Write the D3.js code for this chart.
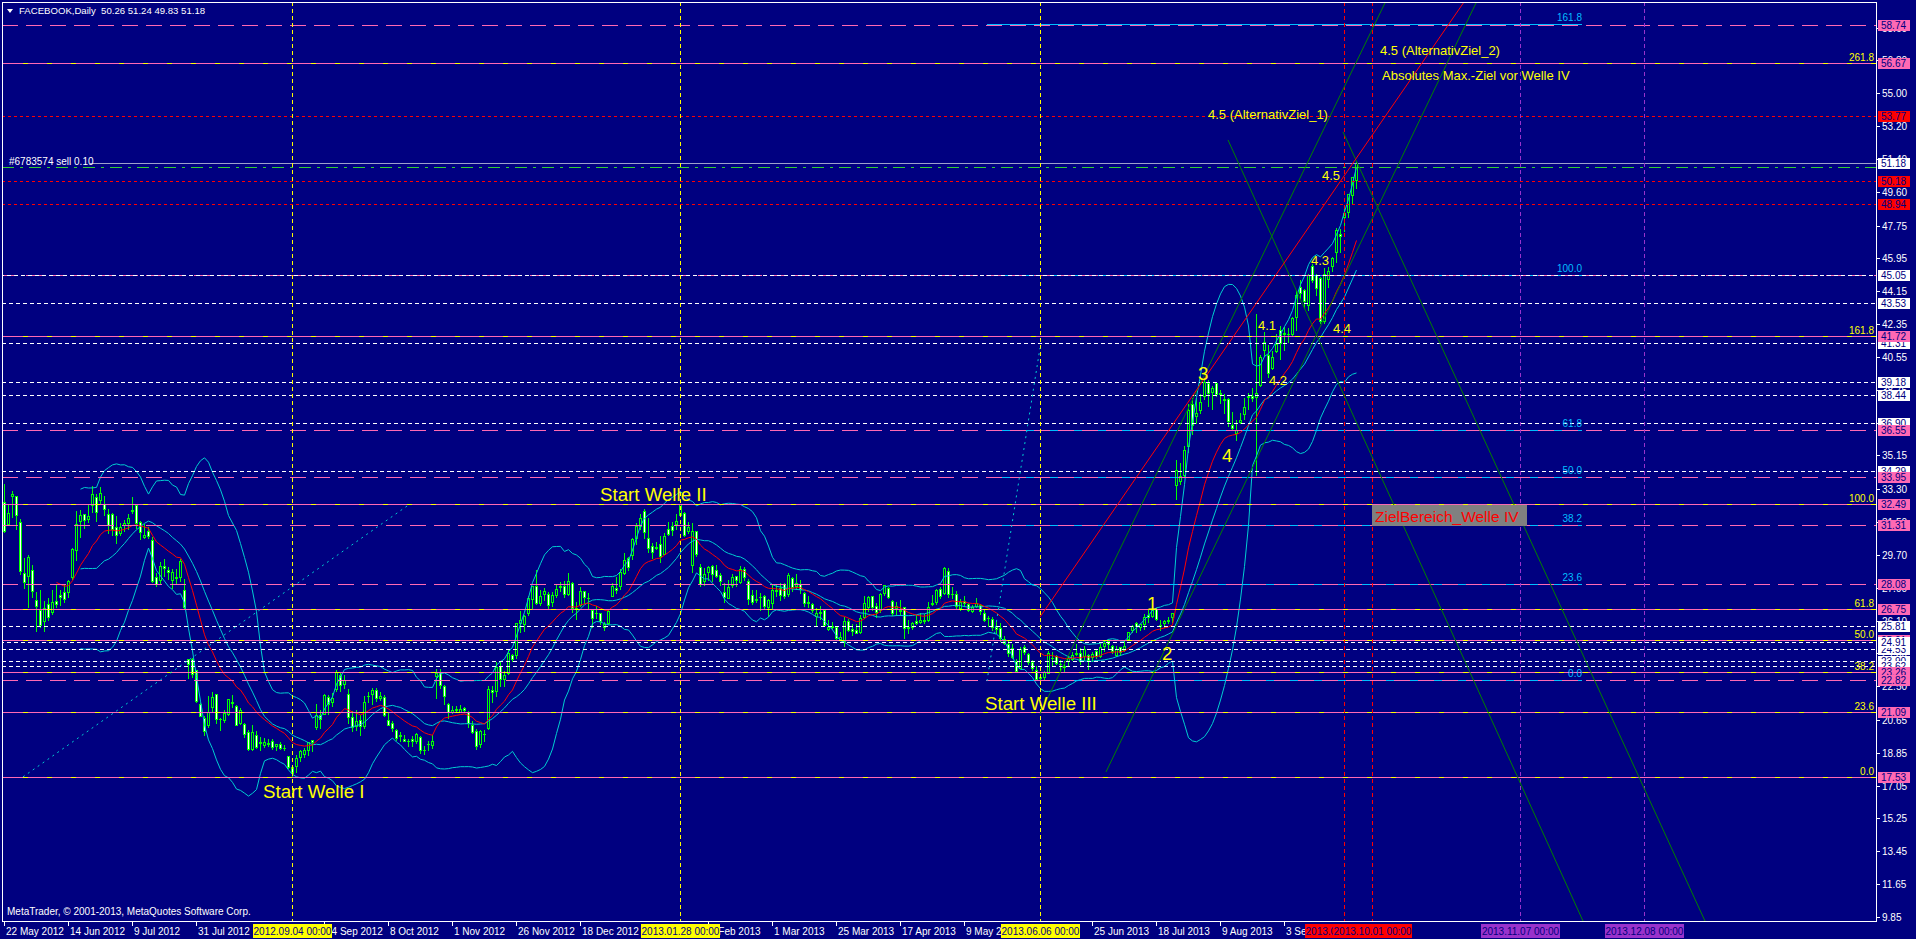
<!DOCTYPE html>
<html><head><meta charset="utf-8">
<script src="https://cdn.jsdelivr.net/npm/d3@7"></script>
<style>html,body{margin:0;padding:0;background:#000080;overflow:hidden}svg{display:block}</style>
</head><body>
<svg id="c" width="1916" height="939"></svg>
<script>
// ---------------- DATA ----------------
// Daily bars, index 0 = 22 May 2012 ... index 338 = 27 Sep 2013
const openP=[32.61,31.37,32.95,32.90,31.48,28.70,28.55,
28.89,27.20,26.70,26.07,27.00,26.55,27.18,27.48,27.66,27.65,28.51,29.96,31.54,31.92,31.67,32.41,32.86,32.69,32.46,31.96,31.92,
31.25,30.91,31.32,31.44,32.10,32.43,31.48,30.70,31.02,30.50,28.51,28.31,29.10,28.88,28.32,28.46,28.50,27.75,23.97,24.00,23.37,
21.50,20.77,20.36,21.38,22.07,20.70,20.64,21.00,21.61,21.41,20.50,20.44,20.00,19.05,19.80,19.36,19.25,19.33,19.50,19.21,19.34,19.11,18.68,
18.08,18.14,18.64,18.77,19.02,19.54,20.25,20.90,21.00,21.91,21.61,22.36,23.12,22.61,22.08,20.81,20.30,20.66,20.30,
21.97,22.05,22.27,21.85,21.91,20.65,20.51,20.08,19.80,19.62,19.49,19.63,19.50,19.69,19.02,19.32,19.25,23.08,23.28,22.50,21.50,
21.08,21.27,21.10,21.29,21.09,20.40,20.03,19.33,19.90,20.20,22.29,22.24,23.60,22.88,23.22,24.22,24.20,25.95,25.93,26.50,27.26,
28.00,27.07,27.53,27.58,27.10,27.50,27.95,28.00,27.58,28.17,26.76,26.96,27.71,27.34,26.66,26.51,26.51,25.76,25.99,
27.44,27.88,28.01,28.69,29.51,29.67,30.60,31.28,32.08,30.64,30.21,30.08,30.31,29.75,31.10,31.27,31.41,31.88,32.00,30.98,29.15,
31.01,29.06,28.26,28.74,29.11,28.89,28.61,27.67,27.36,28.02,28.52,28.23,28.92,28.28,27.51,27.22,27.38,27.42,26.84,
27.05,27.76,27.88,28.10,27.57,28.43,28.01,28.10,27.62,27.10,27.03,26.37,26.53,26.68,25.66,25.80,25.75,25.08,25.00,26.09,
25.63,25.60,25.47,26.32,26.82,27.46,26.90,26.66,27.60,27.90,27.16,26.81,26.65,26.82,25.68,25.77,26.10,26.03,26.10,26.12,27.04,27.13,
27.85,27.61,28.80,27.54,27.55,26.77,27.15,26.98,26.61,26.91,26.97,26.52,26.22,26.16,25.74,25.69,24.88,24.81,24.58,23.86,23.51,24.63,
24.27,23.84,23.41,23.03,22.98,23.25,24.03,24.16,23.70,23.56,23.86,23.97,24.25,24.30,24.18,24.20,24.11,24.43,24.18,24.68,
24.97,24.70,24.22,24.65,24.47,25.07,25.58,25.96,25.74,25.93,26.39,26.37,26.75,25.82,25.99,26.10,26.32,33.54,33.77,34.07,35.65,37.96,
37.30,37.66,38.43,39.11,38.61,39.13,38.59,38.20,38.24,36.83,36.36,36.97,37.43,38.35,38.38,38.37,39.00,40.90,40.68,39.96,40.89,42.02,
41.79,41.79,41.79,42.72,44.36,44.24,43.39,45.53,45.04,44.85,42.50,44.83,45.51,46.32,47.28,48.20,48.47,49.44,50.26];
const highP=[33.59,32.50,33.21,32.95,31.69,29.55,29.67,
29.15,27.65,27.76,27.17,27.35,27.76,28.07,27.77,28.10,28.32,30.10,32.08,32.18,31.93,32.50,33.45,33.02,33.44,32.90,32.19,31.99,
31.82,31.44,31.63,31.93,32.88,32.48,31.57,31.39,31.21,30.70,28.68,29.28,29.45,29.05,28.93,28.92,29.47,28.40,24.00,24.04,23.37,
21.58,20.84,21.95,22.19,22.07,20.74,21.19,21.82,22.00,21.48,21.31,20.48,20.08,20.40,20.04,19.69,19.67,19.60,19.60,19.35,19.45,19.29,18.70,
18.12,18.72,19.00,19.10,19.45,19.54,21.50,21.20,22.06,22.02,22.13,23.37,23.28,23.13,22.32,21.16,21.20,20.93,21.95,
22.20,22.42,22.40,22.19,22.00,21.10,20.60,20.15,20.00,19.83,19.63,19.79,19.93,19.75,19.22,19.51,19.80,23.44,23.42,22.54,21.57,
21.44,21.44,21.48,21.38,21.12,20.58,20.18,20.12,20.08,22.50,22.50,23.83,23.90,23.35,24.55,24.28,25.95,26.60,26.42,27.45,28.00,
28.88,27.77,27.88,27.68,27.65,28.07,28.22,28.24,28.68,28.20,27.10,27.91,27.73,27.63,26.70,26.88,26.51,26.03,26.66,
28.18,28.47,28.93,29.79,29.60,30.60,31.45,31.96,32.21,31.71,30.35,30.42,30.74,30.89,31.50,31.49,31.93,32.51,32.07,31.49,31.47,
31.02,29.20,28.96,29.08,29.15,29.17,28.68,28.16,28.32,28.63,28.55,29.08,29.05,28.35,27.76,27.80,27.60,27.50,27.30,
28.12,28.06,28.18,28.13,28.68,28.47,28.64,28.32,27.65,27.43,27.06,26.79,26.90,26.69,26.11,26.01,25.80,25.48,26.28,26.17,
25.89,25.89,26.39,27.45,27.46,27.47,27.05,27.62,28.07,27.92,27.20,27.11,27.20,26.82,26.15,26.01,26.41,26.51,26.46,27.10,27.51,27.85,
27.92,29.02,29.00,27.92,27.72,27.28,27.45,27.05,26.95,27.35,27.02,26.73,26.37,26.27,26.10,25.96,25.26,24.99,24.80,24.00,24.65,24.74,
24.32,23.94,23.59,23.09,23.34,24.41,24.35,24.23,23.95,23.89,24.15,24.35,24.84,24.57,24.73,24.24,24.37,24.55,24.84,24.98,
25.06,24.77,24.71,24.66,25.04,25.49,25.83,26.00,25.93,26.43,26.75,26.78,26.77,26.11,26.13,26.30,26.53,34.88,34.73,35.66,37.96,38.31,
38.29,38.49,39.32,39.29,38.94,39.19,38.74,38.50,38.32,37.55,37.07,37.49,38.28,38.59,38.85,42.90,40.63,41.94,41.20,40.85,41.78,42.26,
42.19,42.16,42.76,44.20,44.79,44.26,45.09,45.62,45.08,44.94,45.44,45.47,46.05,47.60,47.55,48.66,49.46,50.35,51.24];
const lowP=[30.94,31.36,31.77,31.11,28.65,27.86,26.83,
27.39,25.52,25.75,25.52,26.15,26.44,26.84,26.96,27.10,27.38,28.35,29.41,30.70,31.15,31.51,32.06,31.55,32.50,31.90,30.90,30.76,
30.37,30.80,31.02,31.13,31.99,31.16,30.57,30.64,30.62,28.23,28.00,28.10,28.54,28.40,27.90,28.16,28.25,26.78,22.93,23.03,21.61,
20.84,19.82,20.27,21.08,20.50,20.09,20.55,20.90,21.37,20.35,20.41,19.69,19.00,19.00,19.12,19.00,19.18,19.21,19.06,19.02,19.06,19.02,18.03,
17.55,17.80,18.41,18.62,18.73,18.97,20.15,20.21,20.98,21.00,21.44,22.22,22.21,22.40,20.50,20.05,20.12,19.82,20.23,
21.62,21.50,21.69,21.74,20.86,20.35,20.05,19.53,19.51,19.48,19.23,19.24,19.36,18.86,18.80,19.00,19.10,21.85,22.40,21.50,20.78,
21.01,21.07,21.08,21.06,20.28,19.95,19.08,19.15,19.52,20.18,21.65,21.97,22.49,22.50,23.19,23.87,24.05,25.49,25.55,26.40,26.76,
26.98,26.96,27.20,26.71,26.88,27.41,27.71,27.40,27.51,26.55,26.18,26.90,27.07,26.76,25.75,26.26,25.90,25.57,25.92,
27.42,27.59,27.83,28.65,28.86,29.49,30.28,31.10,30.62,29.88,29.53,30.03,29.33,29.74,30.80,30.81,31.13,31.81,30.71,30.88,28.74,
29.63,28.01,28.04,28.30,28.27,28.51,28.04,27.10,27.31,27.94,27.97,28.15,28.33,27.00,27.00,27.11,26.66,26.78,26.34,
26.81,27.44,27.21,27.35,27.47,27.73,27.83,27.60,26.92,26.83,26.56,25.78,26.21,25.78,25.56,25.63,25.08,25.03,24.72,25.52,
25.28,25.40,25.43,26.24,26.60,26.66,26.32,26.59,27.48,27.34,26.40,26.40,26.39,25.15,25.42,25.63,25.89,25.98,25.97,26.05,26.93,27.01,
27.31,27.55,27.40,27.31,26.80,26.65,26.92,26.60,26.57,26.82,26.43,26.06,25.82,25.58,25.40,25.00,24.80,24.18,24.06,23.26,23.50,24.27,
23.71,23.40,22.85,22.67,22.87,23.21,23.65,23.71,23.26,23.26,23.62,23.91,24.20,23.69,23.91,23.44,23.89,24.03,24.10,24.42,
24.62,24.30,24.15,24.20,24.42,25.03,25.47,25.45,25.56,25.66,26.01,26.30,26.12,25.60,25.72,25.97,26.04,32.75,33.56,34.01,35.32,36.33,
36.92,37.50,38.25,37.86,37.70,38.43,38.01,37.50,36.77,36.62,36.02,36.90,37.14,37.69,38.15,34.10,38.93,40.62,39.42,39.88,40.80,40.42,
40.90,41.36,41.77,42.02,43.70,43.23,43.10,44.65,43.93,42.43,42.43,44.40,45.23,45.74,46.29,47.44,48.24,49.00,49.83];
const closeP=[31.00,32.00,33.03,31.91,28.84,28.19,29.60,
27.72,26.90,25.87,26.81,26.31,27.10,27.01,27.40,27.27,28.29,30.01,31.41,31.91,31.60,31.84,33.05,32.06,33.10,32.23,31.36,31.10,
30.77,31.20,31.47,31.73,32.17,31.47,30.97,30.81,30.72,28.25,28.09,29.11,29.00,28.76,28.75,28.45,29.34,26.85,23.71,23.15,21.71,
20.88,20.04,21.09,21.92,20.72,20.72,21.01,21.81,21.60,20.38,21.20,19.87,19.05,20.01,19.16,19.44,19.44,19.41,19.15,19.34,19.10,19.09,18.06,
17.73,18.58,18.96,18.98,19.43,19.43,20.93,20.71,22.00,21.52,21.87,23.29,22.59,22.86,20.79,20.28,20.62,20.32,21.66,
21.99,22.27,21.83,21.95,20.91,20.40,20.23,19.64,19.75,19.52,19.52,19.48,19.88,18.98,19.00,19.32,19.50,23.23,22.56,21.94,21.11,
21.21,21.18,21.25,21.17,20.47,19.99,19.21,20.07,19.86,22.36,22.17,23.56,22.92,23.10,24.32,24.00,25.94,26.15,26.36,27.32,28.00,
27.04,27.46,27.71,26.97,27.49,27.84,27.98,27.58,28.24,26.81,26.75,27.71,27.41,27.36,26.26,26.51,26.05,25.91,26.62,
28.00,27.77,28.76,29.42,29.06,30.59,31.30,31.72,30.95,30.10,29.85,30.14,29.66,30.73,30.82,31.08,31.54,32.47,30.79,31.24,30.98,
29.73,28.11,28.64,29.05,28.65,28.55,28.26,27.37,27.91,28.50,28.32,28.93,28.46,27.28,27.13,27.27,27.39,26.87,27.25,
27.78,27.72,27.52,27.45,28.58,27.96,28.14,27.83,27.08,27.04,26.65,26.49,26.55,25.86,25.74,25.73,25.13,25.21,26.09,25.58,
25.53,25.42,26.25,27.07,27.39,26.85,26.59,27.57,28.02,27.40,26.52,26.92,26.63,25.69,25.73,25.97,25.98,26.11,26.14,26.85,26.98,27.77,
27.43,28.97,27.57,27.57,26.89,27.12,27.04,26.68,26.82,27.07,26.60,26.13,26.25,25.76,25.66,25.16,25.06,24.31,24.10,23.32,24.55,24.35,
23.85,23.52,22.90,22.97,23.29,24.33,24.03,23.77,23.73,23.63,24.02,24.21,24.31,23.90,24.53,23.94,24.25,24.16,24.66,24.88,
24.81,24.41,24.52,24.37,24.71,25.48,25.80,25.81,25.91,26.28,26.32,26.65,26.18,25.88,26.05,26.13,26.51,34.36,34.01,35.43,37.63,36.80,
37.49,38.05,39.19,38.55,38.87,38.54,38.50,38.22,37.02,36.65,36.56,37.08,37.81,38.41,38.32,38.55,40.55,41.34,39.64,40.55,41.28,41.29,
41.87,41.78,42.66,43.95,44.04,43.60,45.04,44.75,44.31,42.51,45.07,45.23,45.98,47.49,47.19,48.45,49.46,50.39,51.18];

// price axis tick labels
const priceTicks=["9.85","11.65","13.45","15.25","17.05","18.85","20.65","22.50","24.30","26.10","27.90","29.70","31.50","33.30","35.15","36.90","38.75","40.55","42.35","44.15","45.95","47.75","49.60","51.40","53.20","55.00","56.80","58.60"];
// date axis labels (bar index / text) - those fully hidden behind object labels are left out
const dateTickIdx=[0,16,32,48,80,96,112,128,144,176,192,208,224,240,272,288,304,320];
const dateTickText=["22 May 2012","14 Jun 2012","9 Jul 2012","31 Jul 2012","14 Sep 2012","8 Oct 2012","1 Nov 2012","26 Nov 2012","18 Dec 2012","6 Feb 2013","1 Mar 2013","25 Mar 2013","17 Apr 2013","9 May 2013","25 Jun 2013","18 Jul 2013","9 Aug 2013","3 Sep 2013"];

// Fibonacci (yellow labelled) levels
const fibYPrices=[17.53,21.09,23.26,25.01,26.75,32.49,41.72,56.67];
const fibYLabels=["0.0","23.6","38.2","50.0","61.8","100.0","161.8","261.8"];
// Fibonacci (cyan labelled) levels
const fibCPrices=[22.82,28.08,31.31,33.95,36.55,45.05,58.79];
const fibCLabels=["0.0","23.6","38.2","50.0","61.8","100.0","161.8"];
// horizontal lines
const pinkLevels=[58.74,45.05,36.55,33.95,31.31,28.08,22.82];
const whiteLevels=[43.53,41.31,39.18,38.44,36.90,34.29,25.81,24.53,23.90,23.62];
const whiteTopLevels=[45.05,24.91];
const redLevels=[53.77,50.18,48.94];
const bidPrice=51.18, sellPrice=50.96;

// vertical lines (bar index) and their labels
const vYellowIdx=[72,169,259], vYellowText=["2012.09.04 00:00","2013.01.28 00:00","2013.06.06 00:00"];
const vRedIdx=[335,342], vRedText=["2013.09.24 00:00","2013.10.01 00:00"];
const vPurpleIdx=[379,410], vPurpleText=["2013.11.07 00:00","2013.12.08 00:00"];

// trend lines: [idx1, price1, idx2, price2]
const greenTrends=[[259,20.98,316.5,46.96],[275.5,17.80,339.5,46.96],[306,52.44,394.75,9.63],[334.75,52.88,425.25,9.63]];
const redTrend=[259,26.29,324,46.96];
const dottedTrends=[[4.75,17.53,101.5,32.49],[245.75,22.78,259,41.04]];

// text annotations
const waveText=["Start Welle I","Start Welle II","Start Welle III","1","2","3","4"];
const waveIdx=[64.75,149,245.25,285.75,289.5,298.5,304.5];
const wavePrice=[16.37,32.65,21.20,26.68,23.94,39.28,34.79];
const smallText=["4.1","4.2","4.3","4.4","4.5","4.5 (AlternativZiel_2)","Absolutes Max.-Ziel vor Welle IV","4.5 (AlternativZiel_1)"];
const smallIdx=[313.5,316.25,326.75,332.25,329.5,344,344.5,301];
const smallPrice=[42.02,39.01,45.59,41.86,50.24,57.10,55.73,53.59];

// ---------------- DRAW ----------------
const W=1916,H=939,L=2,T=2,R=1876,B=921;
const svg=d3.select('#c');
const x=d3.scaleLinear().domain([0,468]).range([4,1876]);
const y=d3.scaleLinear().domain([9.85,58.74]).range([917,25]);
const px=v=>Math.round(x(v)), py=v=>Math.round(y(v));
const FONT="'Liberation Sans',Arial,sans-serif";
const NAVY="#000080",PINK="#FF69B4",CYAN="#00CED1",LIME="#00FF00",YEL="#FFFF00";

svg.append('rect').attr('width',W).attr('height',H).attr('fill',NAVY);
svg.append('defs').append('clipPath').attr('id','plot').append('rect')
  .attr('x',L).attr('y',T).attr('width',R-L).attr('height',B-T);
const g=svg.append('g').attr('clip-path','url(#plot)');
const gc=g.append('g').attr('shape-rendering','crispEdges');

// candles
const N=closeP.length;
for(let i=0;i<N;i++){
  const X=px(i), o=openP[i], c=closeP[i];
  const yh=py(highP[i]), yl=py(lowP[i]);
  gc.append('rect').attr('x',X).attr('y',yh).attr('width',1).attr('height',Math.max(1,yl-yh+1)).attr('fill',LIME);
  const yt=py(Math.max(o,c)), yb=py(Math.min(o,c));
  gc.append('rect').attr('x',X-1).attr('y',yt).attr('width',3).attr('height',Math.max(1,yb-yt+1)).attr('fill',LIME);
  if(yb-yt>=2) gc.append('rect').attr('x',X).attr('y',yt+1).attr('width',1).attr('height',yb-yt-1)
     .attr('fill',c>=o?NAVY:'#FFFFFF');
}

// indicators: Bollinger Bands (20,2) and EMA(14)
const per=20, bb=[];
for(let i=per-1;i<N;i++){
  const s=closeP.slice(i-per+1,i+1), m=d3.mean(s);
  const sd=Math.sqrt(d3.mean(s,v=>(v-m)*(v-m)));
  bb.push({i,m,u:m+2*sd,l:m-2*sd});
}
const ema=[]; let e=closeP[0];
for(let i=0;i<N;i++){ if(i>0) e=e+(2/15)*(closeP[i]-e); if(i>=13) ema.push({i,v:e}); }
const gi=g.append('g').attr('fill','none');
['u','m','l'].forEach(k=>gi.append('path').datum(bb)
  .attr('d',d3.line().x(d=>x(d.i)+0.5).y(d=>y(d[k]))).attr('stroke',CYAN).attr('stroke-width',1));
gi.append('path').datum(ema).attr('d',d3.line().x(d=>x(d.i)+0.5).y(d=>y(d.v))).attr('stroke','#FF0000').attr('stroke-width',1);

// horizontal objects
const go=g.append('g').attr('shape-rendering','crispEdges');
function hline(p,col,dash,x0,x1){
  const yy=py(p)+0.5;
  const l=go.append('line').attr('x1',x0).attr('x2',x1).attr('y1',yy).attr('y2',yy).attr('stroke',col).attr('stroke-width',1);
  if(dash) l.attr('stroke-dasharray',dash);
  return l;
}
fibCPrices.forEach(p=>hline(p,'#00BFFF',null,987,1582));
fibYPrices.forEach(p=>{hline(p,PINK,null,L,R); hline(p,YEL,'5,19',23,R);});
pinkLevels.forEach(p=>hline(p,PINK,'16,8',L,R));
whiteTopLevels.forEach(p=>hline(p,'#FFFFFF','4,3',L,R).attr('stroke-dashoffset',2));
whiteLevels.forEach(p=>hline(p,'#FFFFFF','4,3',L,R));
redLevels.forEach(p=>hline(p,'#FF0000','3,3',L,R));
hline(bidPrice,'#9FA0CC',null,90,R);
hline(sellPrice,'#32CD32','12,6,3,6',L,R);

// vertical lines
function vline(i,col){
  const xx=px(i)+0.5;
  go.append('line').attr('x1',xx).attr('x2',xx).attr('y1',T).attr('y2',B).attr('stroke',col).attr('stroke-dasharray','4,3');
}
vYellowIdx.forEach(i=>vline(i,YEL));
vRedIdx.forEach(i=>vline(i,'#FF0000'));
vPurpleIdx.forEach(i=>vline(i,'#9932CC'));

// trend lines (rays)
const gt=g.append('g').attr('fill','none');
function ray(t,col){
  const [i1,p1,i2,p2]=t, k=(p2-p1)/(i2-i1);
  gt.append('line').attr('x1',x(i1)).attr('y1',y(p1)).attr('x2',x(i1+400)).attr('y2',y(p1+k*400))
    .attr('stroke',col).attr('stroke-width',1);
}
greenTrends.forEach(t=>ray(t,'#008000'));
ray(redTrend,'#FF0000');
dottedTrends.forEach(t=>gt.append('line').attr('x1',x(t[0])).attr('y1',y(t[1])).attr('x2',x(t[2])).attr('y2',y(t[3]))
    .attr('stroke',CYAN).attr('stroke-dasharray','2,4'));

// fib level labels
const gl=g.append('g').attr('font-family',FONT).attr('font-size',10);
fibYPrices.forEach((p,k)=>gl.append('text').attr('x',1874).attr('y',py(p)-2).attr('text-anchor','end').attr('fill',YEL).text(fibYLabels[k]));
fibCPrices.forEach((p,k)=>gl.append('text').attr('x',1582).attr('y',py(p)-3).attr('text-anchor','end').attr('fill','#00BFFF').text(fibCLabels[k]));

// annotations
const ga=g.append('g').attr('font-family',FONT).attr('fill',YEL);
waveText.forEach((t,k)=>ga.append('text').attr('x',x(waveIdx[k])).attr('y',y(wavePrice[k])).attr('font-size',18.7).text(t));
smallText.forEach((t,k)=>ga.append('text').attr('x',x(smallIdx[k])).attr('y',y(smallPrice[k])).attr('font-size',13).text(t));
const zb=g.append('g');
zb.append('rect').attr('x',x(342)).attr('y',y(32.49)+1).attr('width',155).attr('height',21).attr('fill','#808080');
zb.append('text').attr('x',x(342)+3).attr('y',y(32.49)+18).attr('font-family',FONT).attr('font-size',15.5).attr('fill','#FF0000').text('ZielBereich_Welle IV');

// title and misc text
svg.append('path').attr('d','M7,9 L13,9 L10,13 Z').attr('fill','#FFFFFF');
svg.append('text').attr('x',19).attr('y',14).attr('font-family',FONT).attr('font-size',9.6).attr('fill','#FFFFFF')
  .style('white-space','pre').text('FACEBOOK,Daily  50.26 51.24 49.83 51.18');
svg.append('text').attr('x',9).attr('y',y(bidPrice)+2).attr('font-family',FONT).attr('font-size',10).attr('fill','#FFFFFF').text('#6783574 sell 0.10');
svg.append('text').attr('x',7).attr('y',915).attr('font-family',FONT).attr('font-size',10).attr('fill','#FFFFFF').text('MetaTrader, © 2001-2013, MetaQuotes Software Corp.');

// frame
svg.append('rect').attr('x',L+0.5).attr('y',T+0.5).attr('width',R-L).attr('height',B-T)
  .attr('fill','none').attr('stroke','#FFFFFF').attr('shape-rendering','crispEdges');

// price axis
const ax=svg.append('g').attr('font-family',FONT).attr('font-size',10);
priceTicks.forEach(t=>{
  const yy=py(+t);
  ax.append('line').attr('x1',R).attr('x2',R+4).attr('y1',yy+0.5).attr('y2',yy+0.5).attr('stroke','#FFFFFF').attr('shape-rendering','crispEdges');
  ax.append('text').attr('x',1882).attr('y',yy+4).attr('fill','#FFFFFF').text(t);
});
function plabel(p,bg){
  const yy=py(p);
  ax.append('rect').attr('x',1878).attr('y',yy-5).attr('width',32).attr('height',11).attr('fill',bg).attr('shape-rendering','crispEdges');
  ax.append('text').attr('x',1881).attr('y',yy+4).attr('fill',NAVY).text(p.toFixed(2));
}
whiteLevels.forEach(p=>plabel(p,'#FFFFFF'));
fibYPrices.forEach(p=>plabel(p,PINK));
pinkLevels.forEach(p=>plabel(p,PINK));
whiteTopLevels.forEach(p=>plabel(p,'#FFFFFF'));
redLevels.forEach(p=>plabel(p,'#FF0000'));
plabel(bidPrice,'#FFFFFF');

// date axis
const dx=svg.append('g').attr('font-family',FONT).attr('font-size',10);
dateTickIdx.forEach((i,k)=>{
  const xx=px(i);
  dx.append('line').attr('x1',xx+0.5).attr('x2',xx+0.5).attr('y1',B).attr('y2',B+5).attr('stroke','#FFFFFF').attr('shape-rendering','crispEdges');
  dx.append('text').attr('x',xx+2).attr('y',935).attr('fill','#FFFFFF').text(dateTickText[k]);
});
function vlabel(i,txt,bg){
  const xx=px(i);
  dx.append('rect').attr('x',xx-39).attr('y',924).attr('width',79).attr('height',14).attr('fill',bg);
  dx.append('text').attr('x',xx+0.5).attr('y',935).attr('text-anchor','middle').attr('fill',NAVY).text(txt);
}
vYellowIdx.forEach((i,k)=>vlabel(i,vYellowText[k],YEL));
vRedIdx.forEach((i,k)=>vlabel(i,vRedText[k],'#FF0000'));
vPurpleIdx.forEach((i,k)=>vlabel(i,vPurpleText[k],'#9932CC'));
</script>
</body></html>
